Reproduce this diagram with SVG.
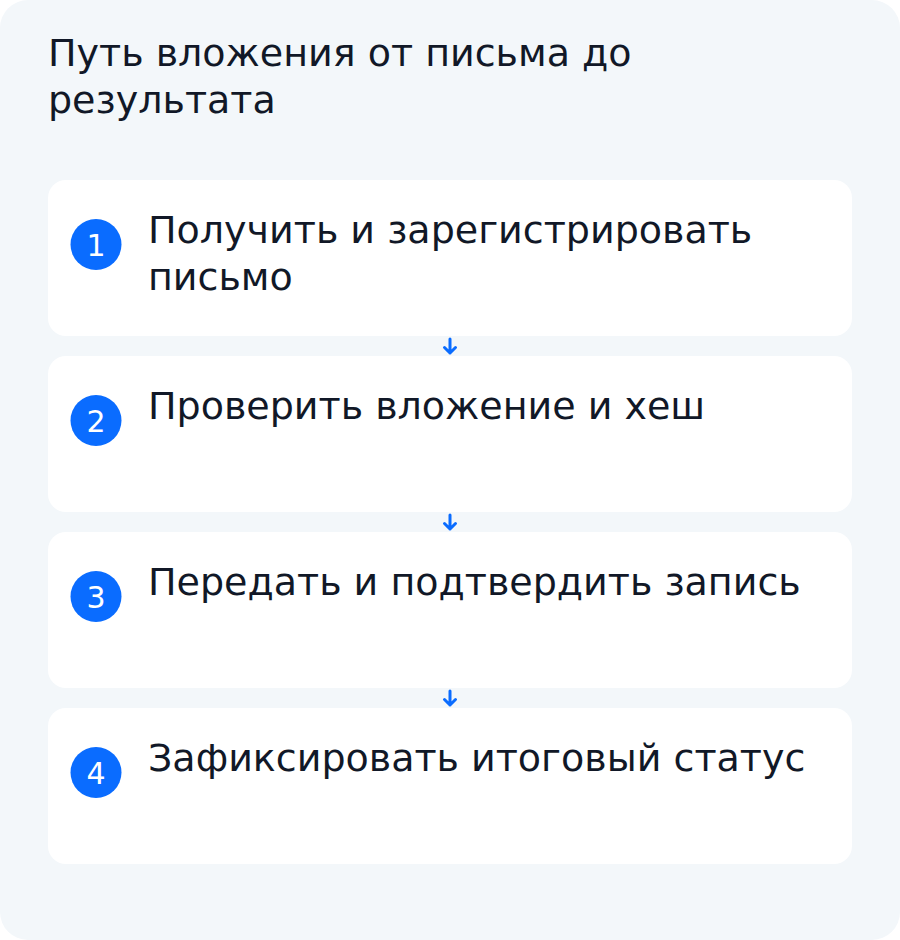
<svg xmlns="http://www.w3.org/2000/svg" width="900" height="940" viewBox="0 0 900 940">
  <style>
    .title { font-family: "DejaVu Sans", sans-serif; font-size: 38px; fill: #111827; }
    .card { fill: #ffffff; }
    .label { font-family: "DejaVu Sans", sans-serif; font-size: 38px; fill: #111827; }
    .badge { fill: #0a6cff; }
    .num { font-family: "DejaVu Sans", sans-serif; font-size: 30px; fill: #ffffff; text-anchor: middle; }
    .conn { stroke: #0a6cff; stroke-width: 3; fill: none; stroke-linecap: round; stroke-linejoin: round; }
  </style>
  <rect x="0" y="0" width="900" height="940" rx="28" fill="#f3f7fa"/>
  <g id="title">
    <text class="title" x="48" y="66">Путь вложения от письма до</text>
    <text class="title" x="48" y="113">результата</text>
  </g>
  <g id="step1">
    <rect class="card" x="48" y="180" width="804" height="156" rx="18"/>
    <circle class="badge" cx="96" cy="244.5" r="25.5"/>
    <text class="num" x="96" y="255.5">1</text>
    <text class="label" x="148" y="243">Получить и зарегистрировать</text>
    <text class="label" x="148" y="290">письмо</text>
  </g>
  <g id="step2">
    <rect class="card" x="48" y="356" width="804" height="156" rx="18"/>
    <circle class="badge" cx="96" cy="420.5" r="25.5"/>
    <text class="num" x="96" y="431.5">2</text>
    <text class="label" x="148" y="419">Проверить вложение и хеш</text>
  </g>
  <g id="step3">
    <rect class="card" x="48" y="532" width="804" height="156" rx="18"/>
    <circle class="badge" cx="96" cy="596.5" r="25.5"/>
    <text class="num" x="96" y="607.5">3</text>
    <text class="label" x="148" y="595">Передать и подтвердить запись</text>
  </g>
  <g id="step4">
    <rect class="card" x="48" y="708" width="804" height="156" rx="18"/>
    <circle class="badge" cx="96" cy="772.5" r="25.5"/>
    <text class="num" x="96" y="783.5">4</text>
    <text class="label" x="148" y="771">Зафиксировать итоговый статус</text>
  </g>
  <g id="connectors">
    <path class="conn" d="M450 339 V353 M444.5 347.5 L450 353 L455.5 347.5"/>
    <path class="conn" d="M450 515 V529 M444.5 523.5 L450 529 L455.5 523.5"/>
    <path class="conn" d="M450 691 V705 M444.5 699.5 L450 705 L455.5 699.5"/>
  </g>
</svg>
